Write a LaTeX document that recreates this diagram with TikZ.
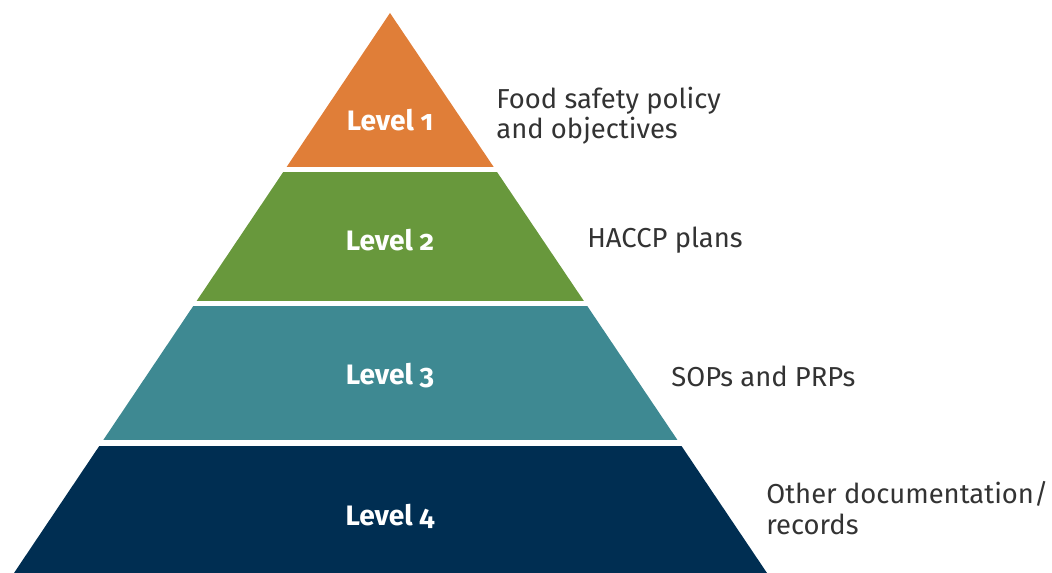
\documentclass[tikz,border=0pt]{standalone}
\usepackage{fontspec}
\setmainfont[Numbers=OldStyle]{Fira Sans}

\definecolor{lvlorange}{HTML}{E07E38}
\definecolor{lvlgreen}{HTML}{68983C}
\definecolor{lvlteal}{HTML}{3E8992}
\definecolor{lvlnavy}{HTML}{002E52}
\definecolor{txtgray}{HTML}{333333}

\begin{document}
\begin{tikzpicture}[x=0.02cm, y=-0.02cm,
  lvl/.style = {text=white, font=\fontsize{16}{18}\selectfont\bfseries},
  desc/.style = {anchor=west, align=left, text=txtgray, inner sep=0pt,
    font=\fontsize{15.6}{17.2}\selectfont}
  ]
  \useasboundingbox (0,0) rectangle (1052,573);

  % pyramid bands, cut out of one triangle
  \begin{scope}
    \clip (390,13) -- (14,573) -- (767,573) -- cycle;
    \foreach \top/\bot/\col in {0/167/lvlorange, 172/301/lvlgreen,
        306/440/lvlteal, 446/573/lvlnavy}
      \fill [\col] (0,\top) rectangle (1052,\bot);
  \end{scope}

  \node (lvl1) [lvl] at (390,120) {Level 1};
  \node (lvl2) [lvl] at (390,240) {Level 2};
  \node (lvl3) [lvl] at (390,376) {Level 3};
  \node (lvl4) [lvl] at (390,516) {Level 4};

  \node (desc1) [desc] at (496,116) {Food safety policy\\and objectives};
  \node (desc2) [desc] at (587,240) {HACCP plans};
  \node (desc3) [desc] at (671,376) {SOPs and PRPs};
  \node (desc4) [desc] at (766,508) {Other documentation/\\records};
\end{tikzpicture}
\end{document}
